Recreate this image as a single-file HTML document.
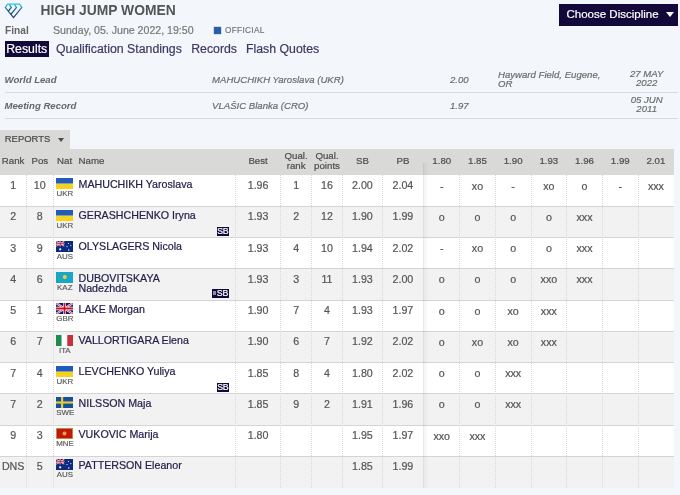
<!DOCTYPE html>
<html><head><meta charset="utf-8">
<style>
*{box-sizing:border-box}
html,body{margin:0;padding:0}
body{-webkit-text-stroke:0.2px;width:680px;height:495px;overflow:hidden;background:#f3f6fa;font-family:"Liberation Sans",sans-serif;position:relative;color:#555}
.a{position:absolute;white-space:nowrap}
#title{left:40.6px;top:1.9px;font-size:13.85px;font-weight:bold;color:#555;line-height:17px}
#final{left:5px;top:24.8px;font-size:10.2px;font-weight:bold;color:#666;line-height:12px}
#date{left:53px;top:24px;font-size:10.6px;color:#777;line-height:12px}
#offsq{left:213.6px;top:26.7px;width:7.6px;height:7.4px;background:#2c5ea8;box-shadow:0 0 0 .6px #b9cbe4}
#off{left:225px;top:27.2px;font-size:8.2px;color:#777;letter-spacing:.36px;line-height:8px}
#res{left:4.5px;top:41px;width:44.5px;height:15.6px;background:#12093a}
.nav{top:42px;font-size:12.3px;line-height:15px;color:#3e3862}
#btn{left:559px;top:3.5px;width:119px;height:22px;background:#12093a}
#btntxt{left:566.5px;top:6.5px;font-size:11.5px;color:#fff;line-height:14px}
#btntri{left:666.1px;top:12.3px;width:0;height:0;border-left:4.3px solid transparent;border-right:4.3px solid transparent;border-top:5.3px solid #fff}
.rec{font-size:9.6px;font-style:italic;color:#6c6c6c;line-height:11px}
.recb{font-weight:bold;color:#666}
.hr{position:absolute;left:4.5px;width:673.7px;height:1px;background:#d6dade}
#rep{left:0;top:130.3px;width:70.3px;height:19px;background:#d9d9d7}
#reptxt{left:4.8px;top:132.9px;font-size:9.45px;color:#4a4a4a;line-height:11px}
#reptri{left:57.8px;top:137.9px;width:0;height:0;border-left:3.6px solid transparent;border-right:3.6px solid transparent;border-top:4.2px solid #4a4a4a}
#thead{left:0;top:149px;width:674px;height:26px;background:#d9d9d7}
.th{position:absolute;font-size:9.7px;color:#4d4d4d;line-height:9.6px;text-align:center}
.row{position:absolute;left:0;width:674px;height:31.3px}
.bl{position:absolute;left:0;width:674px;height:1px;background:#d4d4d4}
.row.odd{background:#fff}
.row.even{background:#f2f2f2}
.vl{position:absolute;top:175px;height:312.7px;width:0;border-left:1px dotted #d9d9d9}
.td{position:absolute;font-size:10.67px;color:#555;line-height:12px;text-align:center}
.nm{position:absolute;font-size:10.67px;color:#24214a;line-height:10px}
.flag{position:absolute;width:17px;height:11px}
.nat{position:absolute;font-size:7.9px;color:#5e5e5e;line-height:8px;width:17px;text-align:center}
.sb{position:absolute;height:9px;background:#12093a;color:#fff;font-size:8.8px;line-height:9.3px;letter-spacing:-.2px;text-align:center}
.h{position:absolute;font-size:10.67px;color:#555;line-height:12px;text-align:center;width:35.7px}
#shadow{position:absolute;left:423px;top:163px;width:6px;height:324.7px;background:linear-gradient(to right,rgba(0,0,0,.1),rgba(0,0,0,.03) 30%,rgba(0,0,0,0));}
#wrap{position:absolute;left:0;top:0;width:680px;height:495px;filter:blur(0.3px)}
#title,#final,.recb{-webkit-text-stroke:0}
</style></head><body><div id="wrap">

<svg class="a" style="left:0;top:0" width="26" height="20" viewBox="0 0 26 20">
<defs><linearGradient id="g" x1="0" y1="0" x2="0" y2="1"><stop offset="0" stop-color="#2cc4e6"/><stop offset=".45" stop-color="#1f6f9a"/><stop offset="1" stop-color="#16386e"/></linearGradient></defs>
<g fill="none" stroke="url(#g)" stroke-width="1.25" stroke-linejoin="miter">
<path d="M7.6 4.2 H19.6 L21.8 7.5 L13.5 17.6 L5.3 7.5 Z"/>
<path d="M9.1 4.2 L11.3 7.5 L8.3 11.2"/>
<path d="M14.3 4.2 L16.5 7.5 L10.9 14.4"/>
</g></svg>

<div class="a" id="title">HIGH JUMP WOMEN</div>
<div class="a" id="final">Final</div>
<div class="a" id="date">Sunday, 05. June 2022, 19:50</div>
<div class="a" id="offsq"></div>
<div class="a" id="off">OFFICIAL</div>

<div class="a" id="res"></div>
<div class="a nav" style="left:6.2px;color:#fff">Results</div>
<div class="a nav" style="left:56px">Qualification Standings</div>
<div class="a nav" style="left:191.2px">Records</div>
<div class="a nav" style="left:246px">Flash Quotes</div>

<div class="a" id="btn"></div>
<div class="a" id="btntxt">Choose Discipline</div>
<div class="a" id="btntri"></div>

<div class="a rec recb" style="left:4.5px;top:74px">World Lead</div>
<div class="a rec" style="left:212px;top:74px">MAHUCHIKH Yaroslava (UKR)</div>
<div class="a rec" style="left:450px;top:74px">2.00</div>
<div class="a rec" style="left:498px;top:70.1px;line-height:9.2px">Hayward Field, Eugene,<br>OR</div>
<div class="a rec" style="left:619.7px;top:68.8px;width:54px;text-align:center;line-height:9.2px">27 MAY<br>2022</div>
<div class="hr" style="top:91.5px"></div>
<div class="a rec recb" style="left:4.5px;top:100px">Meeting Record</div>
<div class="a rec" style="left:212px;top:100px">VLAŠIC Blanka (CRO)</div>
<div class="a rec" style="left:450px;top:100px">1.97</div>
<div class="a rec" style="left:619.7px;top:94.8px;width:54px;text-align:center;line-height:9.3px">05 JUN<br>2011</div>
<div class="hr" style="top:117.5px"></div>

<div class="a" id="rep"></div>
<div class="a" id="reptxt">REPORTS</div>
<div class="a" id="reptri"></div>

<div class="a" id="thead"></div>
<div class="th" style="left:0;width:26.3px;top:156.3px">Rank</div>
<div class="th" style="left:26.3px;width:27px;top:156.3px">Pos</div>
<div class="th" style="left:53.3px;width:22.6px;top:156.3px">Nat</div>
<div class="th" style="left:78.5px;top:156.3px;text-align:left">Name</div>
<div class="th" style="left:235.6px;width:45px;top:156.3px">Best</div>
<div class="th" style="left:280.6px;width:31px;top:151.3px">Qual.<br>rank</div>
<div class="th" style="left:311.5px;width:31px;top:151.3px">Qual.<br>points</div>
<div class="th" style="left:342.4px;width:40px;top:156.3px">SB</div>
<div class="th" style="left:382.4px;width:41px;top:156.3px">PB</div>
<div class="th" style="left:423.9px;width:35.7px;top:156.3px">1.80</div>
<div class="th" style="left:459.6px;width:35.7px;top:156.3px">1.85</div>
<div class="th" style="left:495.3px;width:35.7px;top:156.3px">1.90</div>
<div class="th" style="left:531px;width:35.7px;top:156.3px">1.93</div>
<div class="th" style="left:566.7px;width:35.7px;top:156.3px">1.96</div>
<div class="th" style="left:602.4px;width:35.7px;top:156.3px">1.99</div>
<div class="th" style="left:638.1px;width:35.7px;top:156.3px">2.01</div>

<div class="row odd" style="top:175px;height:31.3px"></div>
<div class="td" style="left:0;width:26.3px;top:179.2px">1</div>
<div class="td" style="left:26.3px;width:27px;top:179.2px">10</div>
<svg class="flag" style="left:56px;top:178.35px" width="17" height="11" viewBox="0 0 17 11"><rect width="17" height="5.7" fill="#1f5cbd"/><rect y="5.7" width="17" height="5.3" fill="#f6d21a"/></svg>
<div class="nat" style="left:56.3px;top:190.4px">UKR</div>
<div class="nm" style="left:78.5px;top:179px">MAHUCHIKH Yaroslava</div>
<div class="td" style="left:235.6px;width:45px;top:179.2px">1.96</div>
<div class="td" style="left:280.6px;width:31px;top:179.2px">1</div>
<div class="td" style="left:311.5px;width:31px;top:179.2px">16</div>
<div class="td" style="left:342.4px;width:40px;top:179.2px">2.00</div>
<div class="td" style="left:382.4px;width:41px;top:179.2px">2.04</div>
<div class="h" style="left:423.9px;top:179.7px">-</div>
<div class="h" style="left:459.6px;top:179.7px">xo</div>
<div class="h" style="left:495.3px;top:179.7px">-</div>
<div class="h" style="left:531px;top:179.7px">xo</div>
<div class="h" style="left:566.7px;top:179.7px">o</div>
<div class="h" style="left:602.4px;top:179.7px">-</div>
<div class="h" style="left:638.1px;top:179.7px">xxx</div>
<div class="row even" style="top:206.23px;height:31.3px"></div>
<div class="bl" style="top:205.93px"></div>
<div class="td" style="left:0;width:26.3px;top:210.43px">2</div>
<div class="td" style="left:26.3px;width:27px;top:210.43px">8</div>
<svg class="flag" style="left:56px;top:209.58px" width="17" height="11" viewBox="0 0 17 11"><rect width="17" height="5.7" fill="#1f5cbd"/><rect y="5.7" width="17" height="5.3" fill="#f6d21a"/></svg>
<div class="nat" style="left:56.3px;top:221.63px">UKR</div>
<div class="nm" style="left:78.5px;top:210.23px">GERASHCHENKO Iryna</div>
<div class="sb" style="left:216.8px;width:12.1px;top:226.53px">SB</div>
<div class="td" style="left:235.6px;width:45px;top:210.43px">1.93</div>
<div class="td" style="left:280.6px;width:31px;top:210.43px">2</div>
<div class="td" style="left:311.5px;width:31px;top:210.43px">12</div>
<div class="td" style="left:342.4px;width:40px;top:210.43px">1.90</div>
<div class="td" style="left:382.4px;width:41px;top:210.43px">1.99</div>
<div class="h" style="left:423.9px;top:210.93px">o</div>
<div class="h" style="left:459.6px;top:210.93px">o</div>
<div class="h" style="left:495.3px;top:210.93px">o</div>
<div class="h" style="left:531px;top:210.93px">o</div>
<div class="h" style="left:566.7px;top:210.93px">xxx</div>
<div class="row odd" style="top:237.46px;height:31.3px"></div>
<div class="bl" style="top:237.16px"></div>
<div class="td" style="left:0;width:26.3px;top:241.66px">3</div>
<div class="td" style="left:26.3px;width:27px;top:241.66px">9</div>
<svg class="flag" style="left:56px;top:240.81px" width="17" height="11" viewBox="0 0 17 11"><rect width="17" height="11" fill="#0b2a80"/><svg width="8.5" height="5.5" viewBox="0 0 60 30" preserveAspectRatio="none"><rect width="60" height="30" fill="#012169"/><path d="M0,0 L60,30 M60,0 L0,30" stroke="#fff" stroke-width="6"/><path d="M0,0 L60,30 M60,0 L0,30" stroke="#C8102E" stroke-width="2.5"/><path d="M30,0 V30 M0,15 H60" stroke="#fff" stroke-width="10"/><path d="M30,0 V30 M0,15 H60" stroke="#C8102E" stroke-width="6"/></svg><circle cx="4.2" cy="8.3" r="1.1" fill="#fff"/><circle cx="12.5" cy="2.5" r=".6" fill="#fff"/><circle cx="14.8" cy="4.6" r=".6" fill="#fff"/><circle cx="11" cy="5.6" r=".6" fill="#fff"/><circle cx="12.8" cy="9" r=".7" fill="#fff"/></svg>
<div class="nat" style="left:56.3px;top:252.86px">AUS</div>
<div class="nm" style="left:78.5px;top:241.46px">OLYSLAGERS Nicola</div>
<div class="td" style="left:235.6px;width:45px;top:241.66px">1.93</div>
<div class="td" style="left:280.6px;width:31px;top:241.66px">4</div>
<div class="td" style="left:311.5px;width:31px;top:241.66px">10</div>
<div class="td" style="left:342.4px;width:40px;top:241.66px">1.94</div>
<div class="td" style="left:382.4px;width:41px;top:241.66px">2.02</div>
<div class="h" style="left:423.9px;top:242.16px">-</div>
<div class="h" style="left:459.6px;top:242.16px">xo</div>
<div class="h" style="left:495.3px;top:242.16px">o</div>
<div class="h" style="left:531px;top:242.16px">o</div>
<div class="h" style="left:566.7px;top:242.16px">xxx</div>
<div class="row even" style="top:268.69px;height:31.3px"></div>
<div class="bl" style="top:268.39px"></div>
<div class="td" style="left:0;width:26.3px;top:272.89px">4</div>
<div class="td" style="left:26.3px;width:27px;top:272.89px">6</div>
<svg class="flag" style="left:56px;top:272.04px" width="17" height="11" viewBox="0 0 17 11"><rect width="17" height="11" fill="#1aa7c4"/><circle cx="8.8" cy="5" r="2" fill="#e8d630"/><rect x=".6" width=".8" height="11" fill="#17a0b8"/></svg>
<div class="nat" style="left:56.3px;top:284.09px">KAZ</div>
<div class="nm" style="left:78.5px;top:272.69px">DUBOVITSKAYA<br>Nadezhda</div>
<div class="sb" style="left:212px;width:17px;top:288.99px"><span style="display:inline-block;width:2.8px;height:3.3px;background:#8d89a6;margin:0 1.2px 0 0;vertical-align:1.3px"></span>SB</div>
<div class="td" style="left:235.6px;width:45px;top:272.89px">1.93</div>
<div class="td" style="left:280.6px;width:31px;top:272.89px">3</div>
<div class="td" style="left:311.5px;width:31px;top:272.89px">11</div>
<div class="td" style="left:342.4px;width:40px;top:272.89px">1.93</div>
<div class="td" style="left:382.4px;width:41px;top:272.89px">2.00</div>
<div class="h" style="left:423.9px;top:273.39px">o</div>
<div class="h" style="left:459.6px;top:273.39px">o</div>
<div class="h" style="left:495.3px;top:273.39px">o</div>
<div class="h" style="left:531px;top:273.39px">xxo</div>
<div class="h" style="left:566.7px;top:273.39px">xxx</div>
<div class="row odd" style="top:299.92px;height:31.3px"></div>
<div class="bl" style="top:299.62px"></div>
<div class="td" style="left:0;width:26.3px;top:304.12px">5</div>
<div class="td" style="left:26.3px;width:27px;top:304.12px">1</div>
<svg class="flag" style="left:56px;top:303.27px" width="17" height="11" viewBox="0 0 17 11"><svg width="17" height="11" viewBox="0 0 60 30" preserveAspectRatio="none"><rect width="60" height="30" fill="#012169"/><path d="M0,0 L60,30 M60,0 L0,30" stroke="#fff" stroke-width="6"/><path d="M0,0 L60,30 M60,0 L0,30" stroke="#C8102E" stroke-width="2.5"/><path d="M30,0 V30 M0,15 H60" stroke="#fff" stroke-width="10"/><path d="M30,0 V30 M0,15 H60" stroke="#C8102E" stroke-width="6"/></svg></svg>
<div class="nat" style="left:56.3px;top:315.32px">GBR</div>
<div class="nm" style="left:78.5px;top:303.92px">LAKE Morgan</div>
<div class="td" style="left:235.6px;width:45px;top:304.12px">1.90</div>
<div class="td" style="left:280.6px;width:31px;top:304.12px">7</div>
<div class="td" style="left:311.5px;width:31px;top:304.12px">4</div>
<div class="td" style="left:342.4px;width:40px;top:304.12px">1.93</div>
<div class="td" style="left:382.4px;width:41px;top:304.12px">1.97</div>
<div class="h" style="left:423.9px;top:304.62px">o</div>
<div class="h" style="left:459.6px;top:304.62px">o</div>
<div class="h" style="left:495.3px;top:304.62px">xo</div>
<div class="h" style="left:531px;top:304.62px">xxx</div>
<div class="row even" style="top:331.15px;height:31.3px"></div>
<div class="bl" style="top:330.85px"></div>
<div class="td" style="left:0;width:26.3px;top:335.35px">6</div>
<div class="td" style="left:26.3px;width:27px;top:335.35px">7</div>
<svg class="flag" style="left:56px;top:334.5px" width="17" height="11" viewBox="0 0 17 11"><rect width="5.7" height="11" fill="#1d8c4a"/><rect x="5.7" width="5.6" height="11" fill="#fff"/><rect x="11.3" width="5.7" height="11" fill="#c8313b"/></svg>
<div class="nat" style="left:56.3px;top:346.55px">ITA</div>
<div class="nm" style="left:78.5px;top:335.15px">VALLORTIGARA Elena</div>
<div class="td" style="left:235.6px;width:45px;top:335.35px">1.90</div>
<div class="td" style="left:280.6px;width:31px;top:335.35px">6</div>
<div class="td" style="left:311.5px;width:31px;top:335.35px">7</div>
<div class="td" style="left:342.4px;width:40px;top:335.35px">1.92</div>
<div class="td" style="left:382.4px;width:41px;top:335.35px">2.02</div>
<div class="h" style="left:423.9px;top:335.85px">o</div>
<div class="h" style="left:459.6px;top:335.85px">xo</div>
<div class="h" style="left:495.3px;top:335.85px">xo</div>
<div class="h" style="left:531px;top:335.85px">xxx</div>
<div class="row odd" style="top:362.38px;height:31.3px"></div>
<div class="bl" style="top:362.08px"></div>
<div class="td" style="left:0;width:26.3px;top:366.58px">7</div>
<div class="td" style="left:26.3px;width:27px;top:366.58px">4</div>
<svg class="flag" style="left:56px;top:365.73px" width="17" height="11" viewBox="0 0 17 11"><rect width="17" height="5.7" fill="#1f5cbd"/><rect y="5.7" width="17" height="5.3" fill="#f6d21a"/></svg>
<div class="nat" style="left:56.3px;top:377.78px">UKR</div>
<div class="nm" style="left:78.5px;top:366.38px">LEVCHENKO Yuliya</div>
<div class="sb" style="left:216.8px;width:12.1px;top:382.68px">SB</div>
<div class="td" style="left:235.6px;width:45px;top:366.58px">1.85</div>
<div class="td" style="left:280.6px;width:31px;top:366.58px">8</div>
<div class="td" style="left:311.5px;width:31px;top:366.58px">4</div>
<div class="td" style="left:342.4px;width:40px;top:366.58px">1.80</div>
<div class="td" style="left:382.4px;width:41px;top:366.58px">2.02</div>
<div class="h" style="left:423.9px;top:367.08px">o</div>
<div class="h" style="left:459.6px;top:367.08px">o</div>
<div class="h" style="left:495.3px;top:367.08px">xxx</div>
<div class="row even" style="top:393.61px;height:31.3px"></div>
<div class="bl" style="top:393.31px"></div>
<div class="td" style="left:0;width:26.3px;top:397.81px">7</div>
<div class="td" style="left:26.3px;width:27px;top:397.81px">2</div>
<svg class="flag" style="left:56px;top:396.96px" width="17" height="11" viewBox="0 0 17 11"><rect width="17" height="11" fill="#11529a"/><rect x="5" width="2.2" height="11" fill="#e8c93a"/><rect y="4.4" width="17" height="2.2" fill="#e8c93a"/></svg>
<div class="nat" style="left:56.3px;top:409.01px">SWE</div>
<div class="nm" style="left:78.5px;top:397.61px">NILSSON Maja</div>
<div class="td" style="left:235.6px;width:45px;top:397.81px">1.85</div>
<div class="td" style="left:280.6px;width:31px;top:397.81px">9</div>
<div class="td" style="left:311.5px;width:31px;top:397.81px">2</div>
<div class="td" style="left:342.4px;width:40px;top:397.81px">1.91</div>
<div class="td" style="left:382.4px;width:41px;top:397.81px">1.96</div>
<div class="h" style="left:423.9px;top:398.31px">o</div>
<div class="h" style="left:459.6px;top:398.31px">o</div>
<div class="h" style="left:495.3px;top:398.31px">xxx</div>
<div class="row odd" style="top:424.84px;height:31.3px"></div>
<div class="bl" style="top:424.54px"></div>
<div class="td" style="left:0;width:26.3px;top:429.04px">9</div>
<div class="td" style="left:26.3px;width:27px;top:429.04px">3</div>
<svg class="flag" style="left:56px;top:428.19px" width="17" height="11" viewBox="0 0 17 11"><rect width="17" height="11" fill="#c9a53a"/><rect x=".8" y=".8" width="15.4" height="9.4" fill="#c4160f"/><circle cx="8.5" cy="5.4" r="2" fill="#d6a84a"/></svg>
<div class="nat" style="left:56.3px;top:440.24px">MNE</div>
<div class="nm" style="left:78.5px;top:428.84px">VUKOVIC Marija</div>
<div class="td" style="left:235.6px;width:45px;top:429.04px">1.80</div>
<div class="td" style="left:342.4px;width:40px;top:429.04px">1.95</div>
<div class="td" style="left:382.4px;width:41px;top:429.04px">1.97</div>
<div class="h" style="left:423.9px;top:429.54px">xxo</div>
<div class="h" style="left:459.6px;top:429.54px">xxx</div>
<div class="row even" style="top:456.07px;height:31.7px"></div>
<div class="bl" style="top:455.77px"></div>
<div class="td" style="left:0;width:26.3px;top:460.27px">DNS</div>
<div class="td" style="left:26.3px;width:27px;top:460.27px">5</div>
<svg class="flag" style="left:56px;top:459.42px" width="17" height="11" viewBox="0 0 17 11"><rect width="17" height="11" fill="#0b2a80"/><svg width="8.5" height="5.5" viewBox="0 0 60 30" preserveAspectRatio="none"><rect width="60" height="30" fill="#012169"/><path d="M0,0 L60,30 M60,0 L0,30" stroke="#fff" stroke-width="6"/><path d="M0,0 L60,30 M60,0 L0,30" stroke="#C8102E" stroke-width="2.5"/><path d="M30,0 V30 M0,15 H60" stroke="#fff" stroke-width="10"/><path d="M30,0 V30 M0,15 H60" stroke="#C8102E" stroke-width="6"/></svg><circle cx="4.2" cy="8.3" r="1.1" fill="#fff"/><circle cx="12.5" cy="2.5" r=".6" fill="#fff"/><circle cx="14.8" cy="4.6" r=".6" fill="#fff"/><circle cx="11" cy="5.6" r=".6" fill="#fff"/><circle cx="12.8" cy="9" r=".7" fill="#fff"/></svg>
<div class="nat" style="left:56.3px;top:471.47px">AUS</div>
<div class="nm" style="left:78.5px;top:460.07px">PATTERSON Eleanor</div>
<div class="td" style="left:342.4px;width:40px;top:460.27px">1.85</div>
<div class="td" style="left:382.4px;width:41px;top:460.27px">1.99</div>

<div class="vl" style="left:26px"></div>
<div class="vl" style="left:53px"></div>
<div class="vl" style="left:235px"></div>
<div class="vl" style="left:280px"></div>
<div class="vl" style="left:311px"></div>
<div class="vl" style="left:342px"></div>
<div class="vl" style="left:382px"></div>
<div class="vl" style="left:459px"></div>
<div class="vl" style="left:495px"></div>
<div class="vl" style="left:531px"></div>
<div class="vl" style="left:566px"></div>
<div class="vl" style="left:602px"></div>
<div class="vl" style="left:638px"></div>
<div id="shadow"></div>

</div></body></html>
